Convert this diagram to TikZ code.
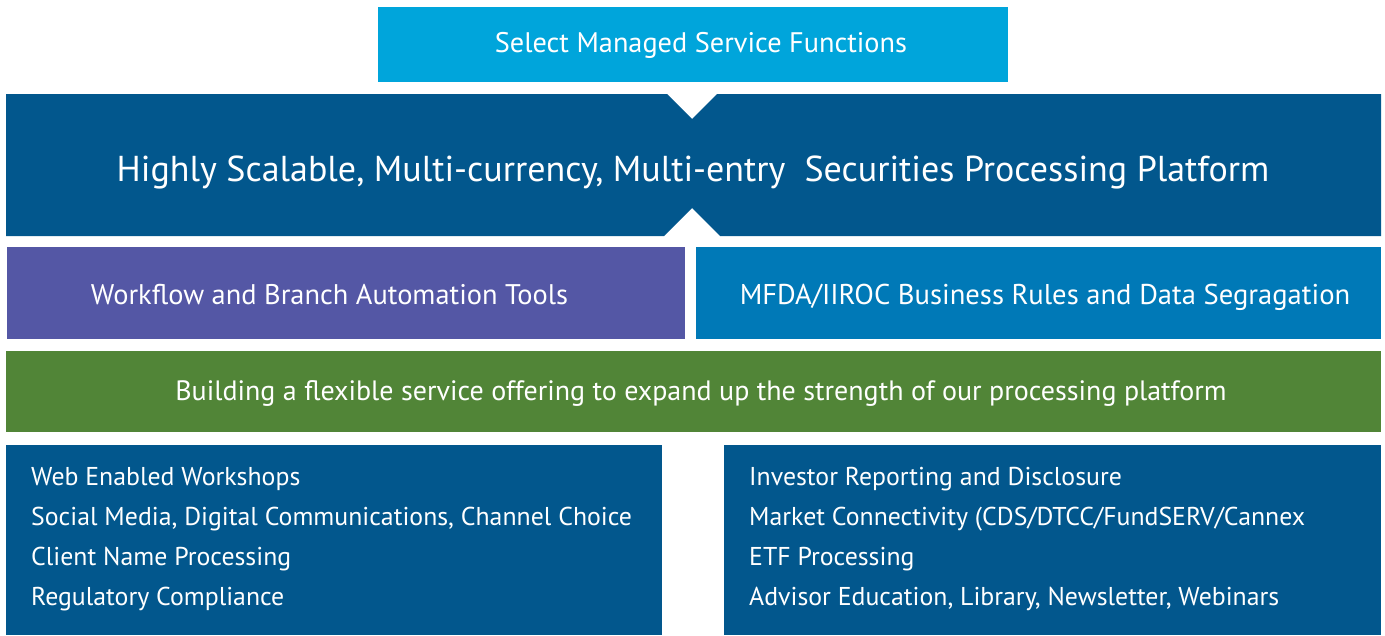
\documentclass[tikz,border=0pt]{standalone}
\usepackage{fontspec}
\setmainfont{PT Sans}
\definecolor{lightblue}{HTML}{00A5DB}
\definecolor{darkblue}{HTML}{02578D}
\definecolor{purplebox}{HTML}{5457A5}
\definecolor{midblue}{HTML}{0079B7}
\definecolor{greenbox}{HTML}{518537}
\tikzset{
  lbl/.style={text=white, inner sep=0pt, anchor=base},
  item/.style={text=white, inner sep=0pt, anchor=base west},
}
\begin{document}
\begin{tikzpicture}[x=1pt,y=-1pt]
\useasboundingbox (0,0) rectangle (1385,635);
% top box
\fill[lightblue] (378,7) rectangle (1008,82);
\node[lbl, font=\fontsize{28.3}{30}\selectfont] (sel) at (701,52) {Select Managed Service Functions};
% platform with notches
\fill[darkblue] (6,94) -- (667,94) -- (692,119) -- (717,94) -- (1381,94) -- (1381,236)
  -- (720,236) -- (692,208) -- (664,236) -- (6,236) -- cycle;
\node[lbl, font=\fontsize{36}{40}\selectfont] (plat) at (693,181) {Highly Scalable, Multi-currency, Multi-entry\ \ Securities Processing Platform};
% middle row
\fill[purplebox] (7,247) rectangle (685,339);
\node[lbl, font=\fontsize{28.4}{30}\selectfont] (wf) at (329.5,304) {Workflow and Branch Automation Tools};
\fill[midblue] (696,247) rectangle (1381,339);
\node[lbl, font=\fontsize{28.6}{30}\selectfont] (mfda) at (1045,304) {MFDA/IIROC Business Rules and Data Segragation};
% green band
\fill[greenbox] (6,351) rectangle (1381,432);
\node[lbl, font=\fontsize{28}{30}\selectfont] (build) at (701,400) {Building a flexible service offering to expand up the strength of our processing platform};
% bottom boxes
\fill[darkblue] (6,445) rectangle (662,635);
\fill[darkblue] (724,445) rectangle (1381,635);
\begin{scope}[font=\fontsize{25.8}{28}\selectfont]
\node[item] (l1) at (31,485) {Web Enabled Workshops};
\node[item] (l2) at (31,525) {Social Media, Digital Communications, Channel Choice};
\node[item] (l3) at (31,565) {Client Name Processing};
\node[item] (l4) at (31,605) {Regulatory Compliance};
\node[item] (r1) at (749,485) {Investor Reporting and Disclosure};
\node[item] (r2) at (749,525) {Market Connectivity (CDS/DTCC/FundSERV/Cannex};
\node[item] (r3) at (749,565) {ETF Processing};
\node[item] (r4) at (749,605) {Advisor Education, Library, Newsletter, Webinars};
\end{scope}
\end{tikzpicture}
\end{document}
